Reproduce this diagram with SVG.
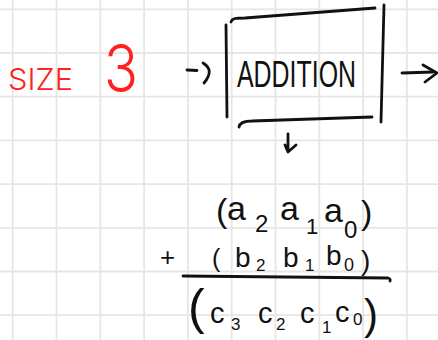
<svg xmlns="http://www.w3.org/2000/svg" width="438" height="340" viewBox="0 0 438 340">
  <style>
    .grid line { stroke: #e6e6e6; stroke-width: 1.8; }
    .ink { fill: none; stroke: #111; stroke-width: 2.8; stroke-linecap: round; stroke-linejoin: round; }
    .hand { font-family: "Liberation Sans", "DejaVu Sans", sans-serif; fill: #111; }
    .red { font-family: "Inter", "Roboto", "Liberation Sans", sans-serif; font-weight: 300; fill: #ff2020; }
  </style>
  <rect width="438" height="340" fill="#ffffff"/>
  <g class="grid">
    <line x1="12.7" y1="0" x2="12.7" y2="340"/>
    <line x1="56.5" y1="0" x2="56.5" y2="340"/>
    <line x1="100.3" y1="0" x2="100.3" y2="340"/>
    <line x1="144.1" y1="0" x2="144.1" y2="340"/>
    <line x1="187.9" y1="0" x2="187.9" y2="340"/>
    <line x1="231.7" y1="0" x2="231.7" y2="340"/>
    <line x1="275.5" y1="0" x2="275.5" y2="340"/>
    <line x1="319.3" y1="0" x2="319.3" y2="340"/>
    <line x1="363.1" y1="0" x2="363.1" y2="340"/>
    <line x1="406.9" y1="0" x2="406.9" y2="340"/>
    <line x1="0" y1="9.3" x2="438" y2="9.3"/>
    <line x1="0" y1="53" x2="438" y2="53"/>
    <line x1="0" y1="96.7" x2="438" y2="96.7"/>
    <line x1="0" y1="140.4" x2="438" y2="140.4"/>
    <line x1="0" y1="184.1" x2="438" y2="184.1"/>
    <line x1="0" y1="227.8" x2="438" y2="227.8"/>
    <line x1="0" y1="271.5" x2="438" y2="271.5"/>
    <line x1="0" y1="315.2" x2="438" y2="315.2"/>
  </g>

  <g id="size-label">
    <text class="red" x="8" y="90" font-size="30" textLength="65" lengthAdjust="spacingAndGlyphs">SIZE</text>
    <text class="red" x="104" y="92" font-size="66" textLength="34" lengthAdjust="spacingAndGlyphs">3</text>
  </g>

  <g id="addition">
    <path class="ink" d="M231,22 C232,18 236,18 245,18 Q310,13 375,8"/>
    <path class="ink" d="M226,25 L227,117"/>
    <path class="ink" d="M384,5 L381,122"/>
    <path class="ink" d="M239,127 Q240,121 252,121 L372,117"/>
    <text class="hand" x="237" y="87" font-size="36" textLength="119" lengthAdjust="spacingAndGlyphs">ADDITION</text>
  </g>

  <g id="connectors">
    <path class="ink" d="M187,70 L197,70.5"/>
    <path class="ink" d="M203,63 Q215,70 204,83"/>
    <path class="ink" d="M402,73 L433,72"/>
    <path class="ink" d="M423,65 L437,73 L425,82"/>
    <path class="ink" d="M288,134 L288,152 L296,145 M285,145 L288,152"/>
  </g>

  <g id="equation">
    <text class="hand" font-size="34">
      <tspan x="216" y="222">(</tspan><tspan x="227" y="220">a</tspan><tspan x="255" y="232" font-size="24">2</tspan><tspan x="280" y="220">a</tspan><tspan x="306" y="234" font-size="22">1</tspan><tspan x="324" y="222">a</tspan><tspan x="344" y="238" font-size="24">0</tspan><tspan x="361" y="224">)</tspan>
    </text>
    <text class="hand" x="160" y="266" font-size="26">+</text>
    <text class="hand" font-size="28">
      <tspan x="212" y="267" font-size="25">(</tspan><tspan x="235" y="267">b</tspan><tspan x="256" y="271" font-size="17">2</tspan><tspan x="283" y="267">b</tspan><tspan x="305" y="271" font-size="17">1</tspan><tspan x="326" y="265">b</tspan><tspan x="344" y="271" font-size="18">0</tspan><tspan x="361" y="270" font-size="28">)</tspan>
    </text>
    <path class="ink" d="M183,276 Q290,277 388,278 Q391,279 390,281"/>
    <text class="hand" font-size="29">
      <tspan x="188" y="324" font-size="50">(</tspan><tspan x="210" y="323">c</tspan><tspan x="231" y="330" font-size="17">3</tspan><tspan x="258" y="323">c</tspan><tspan x="276" y="330" font-size="17">2</tspan><tspan x="300" y="323">c</tspan><tspan x="322" y="333" font-size="17">1</tspan><tspan x="335" y="322">c</tspan><tspan x="353" y="325" font-size="17">0</tspan><tspan x="364" y="329" font-size="42">)</tspan>
    </text>
  </g>
</svg>
